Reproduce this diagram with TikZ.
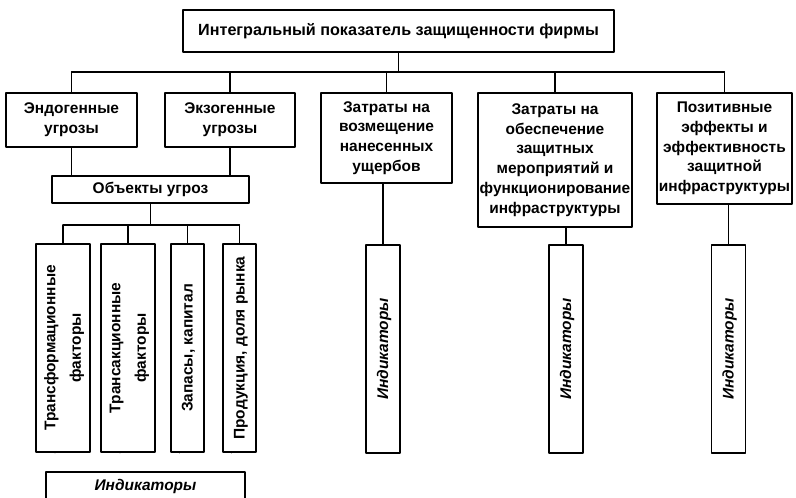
\documentclass[tikz,border=0pt]{standalone}
\usepackage{fontspec}
\setmainfont{Liberation Sans}
\usepackage{graphicx}
\usetikzlibrary{calc}
\newcommand{\vtext}[2][1.3]{\rotatebox{90}{\renewcommand{\arraystretch}{#1}\begin{tabular}{@{}c@{}}#2\end{tabular}}}

\begin{document}
\begin{tikzpicture}[x=0.025cm,y=-0.025cm,line join=round,line cap=round,line width=0.9pt,
	box/.style={draw,align=center,inner sep=1pt,font=\fontsize{11}{14}\selectfont\bfseries},
	ibox/.style={box,font=\fontsize{11}{14}\selectfont\bfseries\itshape}]
				\useasboundingbox (0,0) rectangle (796,498);
				\node[box,minimum width=10.775cm,minimum height=1.05cm,font=\fontsize{11.5}{14}\selectfont\bfseries] (T) at (398.5,31) {Интегральный показатель защищенности фирмы};
				\node[box,minimum width=3.275cm,minimum height=1.35cm] (E1) at (71.5,120) {Эндогенные\\угрозы};
				\node[box,minimum width=3.25cm,minimum height=1.35cm] (E2) at (230,120) {Экзогенные\\угрозы};
				\node[box,minimum width=3.275cm,minimum height=2.25cm] (E3) at (386.5,138) {Затраты на\\возмещение\\нанесенных\\ущербов};
				\node[box,minimum width=3.85cm,minimum height=3.35cm] (E4) at (555,160) {Затраты на\\обеспечение\\защитных\\мероприятий и\\функционирование\\инфраструктуры};
				\node[box,minimum width=3.375cm,minimum height=2.775cm] (E5) at (724.5,148.5) {Позитивные\\эффекты и\\эффективность\\защитной\\инфраструктуры};
				\node[box,minimum width=4.925cm,minimum height=0.675cm] (O) at (150.5,189.5) {Объекты угроз};
				\node[box,minimum width=1.15cm,minimum height=5.2cm] (F1) at (63,348) {\vtext{Трансформационные\\факторы}};
				\node[box,minimum width=1.15cm,minimum height=5.2cm] (F2) at (128,348) {\vtext{Трансакционные\\факторы}};
				\node[box,minimum width=0.825cm,minimum height=5.2cm] (F3) at (187.5,348) {\vtext{Запасы, капитал}};
				\node[box,minimum width=0.825cm,minimum height=5.2cm] (F4) at (239.5,348) {\vtext{Продукция, доля рынка}};
				\node[ibox,minimum width=4.975cm,minimum height=0.7cm] (I0) at (145.5,486) {Индикаторы};
				\foreach \i/\x in {I1/383,I2/566,I3/728.5}{\node[ibox,minimum width=0.85cm,minimum height=5.2cm] (\i) at (\x,349) {\vtext{Индикаторы}};}
				\coordinate (B1) at (0,72);
				\coordinate (B2) at (0,225);
				\draw (T.south) -- (T.south |- B1) (E1.north |- B1) -- (E5.north |- B1);
				\foreach \i in {E1,E2,E3,E4,E5}{\draw (\i.north) -- (\i.north |- B1);}
				\foreach \i in {E1,E2}{\draw (\i.south) -- (\i.south |- O.north);}
				\draw (O.south) -- (O.south |- B2) (F1.north |- B2) -- (F4.north |- B2);
				\foreach \i in {F1,F2,F3,F4}{\draw (\i.north) -- (\i.north |- B2) ($(\i.south)+(-8,0)$) -- ($(\i.south)+(-8,0)$ |- I0.north);}
				\foreach \i/\j in {E3/I1,E4/I2,E5/I3}{\draw (\j.north) -- (\j.north |- \i.south);}
			\end{tikzpicture}
\end{document}
